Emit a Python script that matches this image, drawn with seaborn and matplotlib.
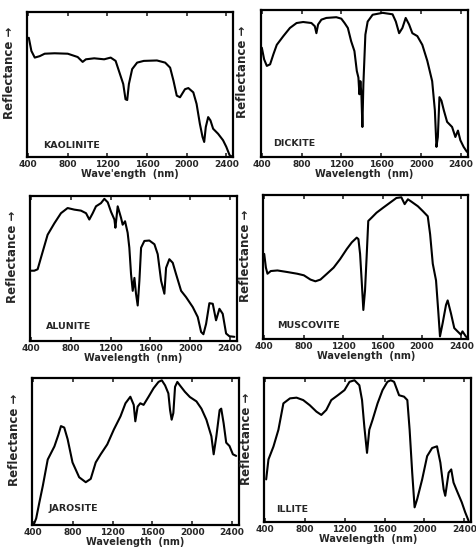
import numpy as np
import pandas as pd
import matplotlib
matplotlib.use("Agg")
import matplotlib.pyplot as plt
import seaborn as sns

# ---- data (wavelength nm, relative reflectance 0-100) ----
kaolinite_x = [407, 433, 467, 517, 567, 667, 800, 900, 950, 983, 1067, 1167, 1233, 1283, 1327, 1360, 1383, 1400,
               1417, 1450, 1500, 1567, 1700, 1783, 1833, 1867, 1900, 1933, 1983, 2017, 2067, 2100, 2133, 2160,
               2177, 2193, 2217, 2240, 2267, 2317, 2367, 2400, 2433, 2460]
kaolinite_y = [82.8, 73.6, 69, 70, 71.7, 72, 71.7, 69.4, 66, 67.8, 68.5, 67.8, 69, 66.7, 57.5, 50.6, 40, 39.5,
               50.6, 61, 65.5, 66.7, 67, 65.5, 62, 52.9, 42.5, 41.4, 47, 47.8, 44.8, 36.8, 23, 13.8,
               10.3, 20.7, 27.6, 25.3, 19.5, 16, 11.5, 6.9, 1.1, 0]

dickite_x = [400, 423, 450, 483, 516, 550, 616, 682, 749, 815, 898, 932, 948, 965, 998, 1048, 1148, 1198, 1231,
             1264, 1297, 1330, 1354, 1370, 1380, 1390, 1400, 1410, 1420, 1440, 1463, 1513, 1613, 1713, 1746,
             1779, 1812, 1845, 1879, 1912, 1962, 2012, 2062, 2111, 2138, 2154, 2168, 2184, 2204, 2228, 2261,
             2311, 2344, 2370, 2394, 2427, 2460]
dickite_y = [75, 67, 62.5, 63.6, 70.5, 77, 83, 88.6, 92, 92.7, 92, 89.8, 85, 91, 94.3, 95.5, 96, 95, 92,
             88.6, 79.5, 72.7, 59, 54.5, 43, 52, 43, 20.5, 50, 84, 93, 97.7, 99, 98, 93,
             85, 88.6, 95.5, 91, 85, 83, 77, 66, 52, 32, 6.8, 13.6, 41, 38.6, 32, 24,
             20.5, 13.6, 18, 11.4, 6.8, 3.4]

alunite_x = [400, 433, 467, 500, 567, 635, 701, 768, 835, 902, 953, 986, 1020, 1053, 1103, 1137, 1171, 1204,
             1238, 1248, 1271, 1305, 1321, 1345, 1371, 1388, 1405, 1422, 1439, 1455, 1472, 1489, 1506, 1539,
             1589, 1640, 1673, 1707, 1740, 1757, 1790, 1824, 1857, 1908, 1958, 2025, 2075, 2109, 2132, 2159,
             2192, 2226, 2259, 2293, 2326, 2360, 2393, 2443]
alunite_y = [49, 49, 50, 58, 74, 82, 89, 92.6, 91.5, 90.8, 89, 84.6, 89, 93.8, 96, 99, 96.6, 90,
             84.6, 78.9, 93.8, 85.7, 81, 83.4, 75.4, 65, 46.7, 35, 44, 33, 24.8, 42, 65, 69.7,
             70, 67.4, 60.5, 42, 33, 51, 57, 54.5, 46.7, 35, 30.6, 23.7, 16.8, 6.4, 4.8, 12,
             26.4, 26, 14.5, 22.5, 19, 5.3, 3.4, 3]

muscovite_x = [400, 417, 433, 467, 534, 634, 735, 802, 869, 919, 970, 1036, 1104, 1170, 1237, 1288, 1338, 1355,
               1372, 1388, 1405, 1422, 1438, 1455, 1489, 1539, 1606, 1673, 1740, 1790, 1824, 1857, 1891, 1958,
               2008, 2058, 2082, 2109, 2142, 2166, 2182, 2209, 2243, 2260, 2293, 2327, 2360, 2394, 2410, 2444, 2460]
muscovite_y = [59.6, 50, 45.7, 47.6, 48, 46.9, 45.7, 44.6, 41.6, 40.4, 41.6, 45.7, 50, 56, 63, 67.7, 71, 70,
               59.6, 41, 20.3, 34, 57, 82.7, 85, 88.5, 92, 95.4, 98.8, 99.3, 94.5, 97.9, 96.3, 93,
               89.6, 86, 73.4, 52.7, 41, 18, 1.8, 11, 23.8, 27, 18, 7.6, 5.3, 3, 5.3, 1.8, 0.7]

jarosite_x = [410, 433, 466, 500, 549, 616, 656, 682, 715, 749, 798, 865, 931, 981, 1031, 1081, 1147, 1213,
              1280, 1330, 1379, 1413, 1429, 1452, 1479, 1512, 1562, 1612, 1662, 1695, 1728, 1761, 1778, 1794,
              1811, 1828, 1851, 1877, 1927, 1977, 2043, 2093, 2143, 2193, 2216, 2243, 2276, 2292, 2316, 2342,
              2375, 2409, 2442]
jarosite_y = [0.5, 4.5, 15.8, 27, 45, 54, 62, 68, 67, 59, 43, 32.8, 29.4, 31.7, 43, 48.6, 55.4, 65.6,
              74.7, 83.7, 88.2, 82.6, 71.3, 81.4, 83.7, 82.6, 88.2, 94, 98.4, 99.5, 96, 90.5, 79, 72.4,
              77, 95, 98.4, 96, 91.6, 88, 85, 80, 72.4, 61, 48.6, 61, 79, 80, 70, 56.6,
              54.3, 48.6, 47.5]

illite_x = [410, 433, 483, 533, 583, 649, 715, 782, 848, 915, 964, 1014, 1064, 1130, 1197, 1247, 1297, 1346,
            1373, 1396, 1423, 1446, 1479, 1529, 1579, 1628, 1662, 1695, 1745, 1795, 1828, 1851, 1877, 1901,
            1927, 1977, 2027, 2077, 2126, 2160, 2193, 2209, 2243, 2269, 2292, 2326, 2375, 2409, 2442]
illite_y = [30, 44, 53, 64.8, 83.3, 86.8, 87.3, 85.6, 82, 77.5, 75.2, 78.7, 85.6, 89, 92.6, 98.4, 99.5, 96,
            85.6, 67, 48.6, 64.8, 71.8, 83.3, 92.6, 98.4, 99.5, 98.4, 89, 88, 85.6, 64.8, 34.7, 10.4,
            16.2, 30, 46.3, 52, 53.2, 41.7, 23, 18.5, 34.7, 37, 27.8, 22, 13.9, 7, 1.2]

minerals = ["KAOLINITE", "DICKITE", "ALUNITE", "MUSCOVITE", "JAROSITE", "ILLITE"]
xticks = [400, 800, 1200, 1600, 2000, 2400]
xlabels = ["Wave'ength  (nm)", "Wavelength  (nm)", "Wavelength  (nm)",
           "Wavelength  (nm)", "Wavelength  (nm)", "Wavelength  (nm)"]
ylabel = "Reflectance \u2192"

series = [(kaolinite_x, kaolinite_y), (dickite_x, dickite_y), (alunite_x, alunite_y),
          (muscovite_x, muscovite_y), (jarosite_x, jarosite_y), (illite_x, illite_y)]

# ---- layout ----
positions = [
    [0.057, 0.716, 0.433, 0.263],
    [0.548, 0.716, 0.435, 0.266],
    [0.063, 0.382, 0.435, 0.263],
    [0.553, 0.386, 0.431, 0.261],
    [0.067, 0.049, 0.435, 0.266],
    [0.555, 0.054, 0.435, 0.261],
]
name_pos = [(0.08, 0.08), (0.06, 0.09), (0.075, 0.10), (0.07, 0.09), (0.08, 0.11), (0.06, 0.09)]

sns.set_theme(style="ticks")
plt.rcParams['font.family'] = ['DejaVu Sans']
plt.rcParams['font.weight'] = 'bold'

fig = plt.figure(figsize=(4.76, 5.52), dpi=100)
fig.patch.set_facecolor("white")

for i, (name, (xs, ys)) in enumerate(zip(minerals, series)):
    ax = fig.add_axes(positions[i])
    df = pd.DataFrame({"Wavelength": xs, "Reflectance": ys})
    sns.lineplot(data=df, x="Wavelength", y="Reflectance", ax=ax, color="black",
                 linewidth=1.5, estimator=None, sort=False)
    ax.set_xlim(390, 2470)
    ax.set_ylim(0, 101)
    ax.set_xticks(xticks)
    ax.set_xticklabels([str(t) for t in xticks], fontsize=6.5, fontweight='bold')
    ax.set_yticks([])
    ax.tick_params(axis='x', direction='in', top=True, length=3, width=1.2, pad=2)
    for sp in ax.spines.values():
        sp.set_visible(True)
        sp.set_linewidth(1.6)
        sp.set_color("black")
    ax.set_xlabel(xlabels[i], fontsize=7, fontweight='bold', labelpad=0)
    ax.set_ylabel(ylabel, fontsize=8.5, fontweight='bold', labelpad=3)
    ax.yaxis.set_label_coords(-0.055, 0.58)
    ax.text(name_pos[i][0], name_pos[i][1], name, transform=ax.transAxes,
            fontsize=6.8, fontweight='bold', ha='left', va='center')
    ax.set_facecolor("white")

fig.savefig("out.png", dpi=100, facecolor="white")
